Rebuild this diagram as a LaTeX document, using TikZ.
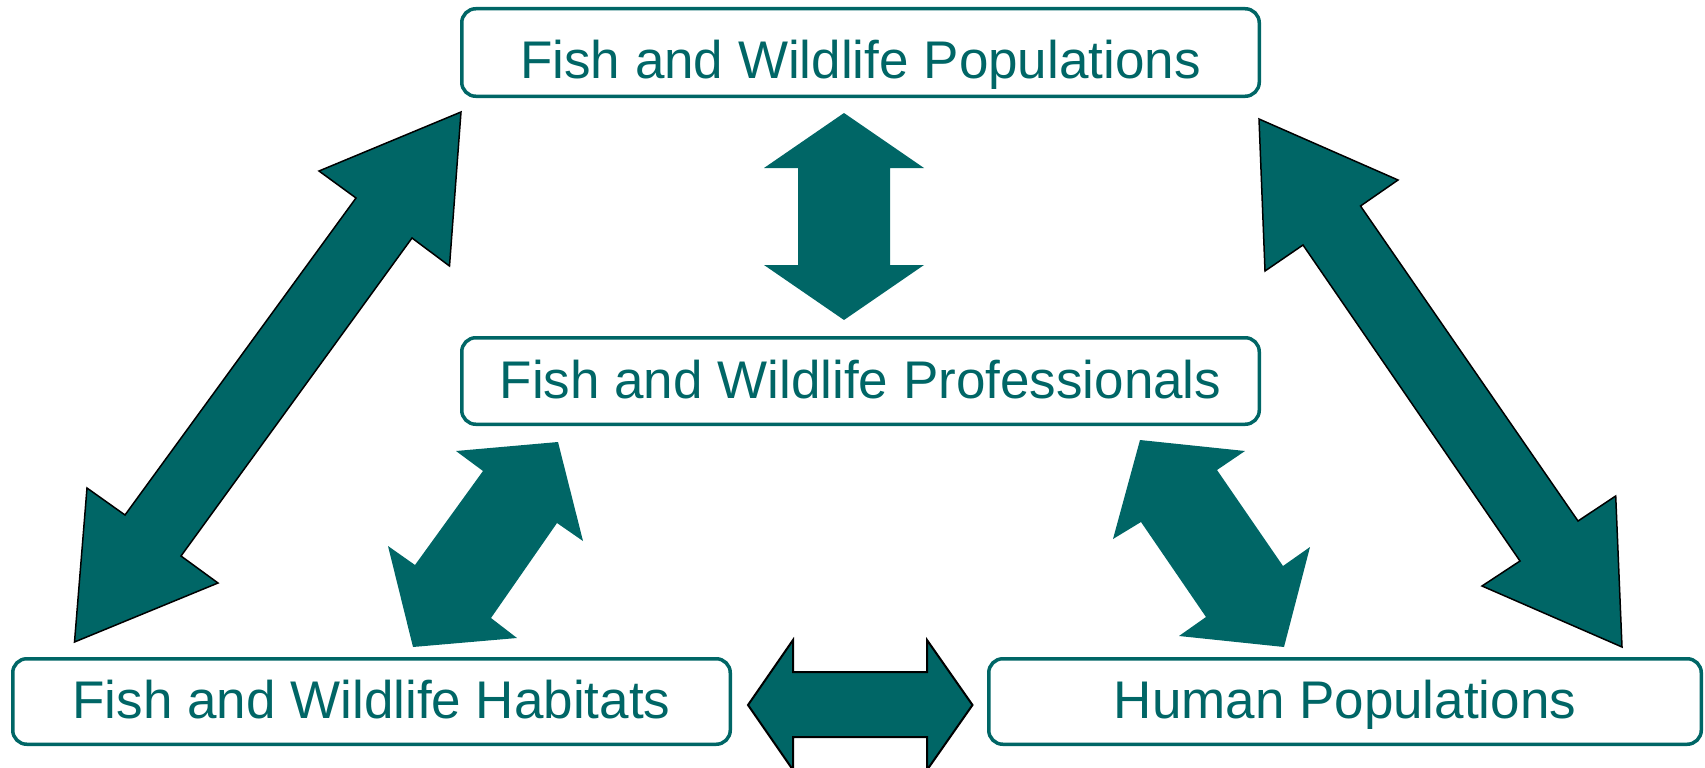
\documentclass[tikz,border=0pt]{standalone}
\usepackage{fontspec}
\setmainfont{Liberation Sans}
\definecolor{teal6}{HTML}{006666}
\tikzset{
  box/.style={draw=teal6, line width=3.5pt, rounded corners=14pt, inner sep=0pt,
    text=teal6, font=\fontsize{53}{60}\selectfont, fill=white},
  bigarrow/.style={fill=teal6, draw=black, line width=1.5pt, line join=miter},
  flatarrow/.style={fill=teal6},
  harrow/.style={fill=teal6, draw=black, line width=2pt, line join=miter}
}
\begin{document}
\begin{tikzpicture}[x=1pt,y=-1pt]
\useasboundingbox (0,0) rectangle (1705,768);
% boxes
\node[box, minimum width=797.5pt, minimum height=87.5pt, text height=51pt, text depth=0pt] (pop) at (860.5,52.5) {Fish and Wildlife Populations};
\node[box, minimum width=797.5pt, minimum height=86.5pt, text height=38pt, text depth=4pt] (pro) at (860.5,381) {Fish and Wildlife Professionals};
\node[box, minimum width=717.5pt, minimum height=85.5pt, text height=37pt, text depth=4pt] (hab) at (371.5,701.5) {Fish and Wildlife Habitats};
\node[box, minimum width=712.5pt, minimum height=85.5pt, text height=37pt, text depth=4pt] (hum) at (1345,701.5) {Human Populations};
% vertical arrow populations <-> professionals
\fill[flatarrow] (844,113) -- (924,168) -- (890,168) -- (890,265) -- (924,265) -- (844,320)
  -- (764,265) -- (798,265) -- (798,168) -- (764,168) -- cycle;
% big left arrow populations <-> habitats
\filldraw[bigarrow] (461,112) -- (449.5,266) -- (412,238) -- (181,556) -- (218,583) -- (74.5,642)
  -- (87,488) -- (125,515) -- (356,198) -- (319,171) -- cycle;
% big right arrow populations <-> human
\filldraw[bigarrow] (1259,119) -- (1398,180) -- (1360.5,206) -- (1578,521) -- (1615.7,496) -- (1622,647)
  -- (1482,586) -- (1520,561) -- (1303,245) -- (1265,271) -- cycle;
% small left arrow professionals <-> habitats
\fill[flatarrow] (558,442) -- (583,541) -- (557,523) -- (491,618) -- (517,638) -- (413,647)
  -- (388,546) -- (415,565) -- (483,471) -- (456,451) -- cycle;
% small right arrow professionals <-> human
\fill[flatarrow] (1140,440) -- (1245,451) -- (1217,470) -- (1283,566) -- (1310,547) -- (1284,647)
  -- (1179,636) -- (1206,617) -- (1141,522) -- (1113,539) -- cycle;
% horizontal arrow habitats <-> human
\filldraw[harrow] (748,705) -- (793,640) -- (793,672) -- (927,672) -- (927,640) -- (972.5,705)
  -- (927,770) -- (927,737) -- (793,737) -- (793,770) -- cycle;
\end{tikzpicture}
\end{document}
